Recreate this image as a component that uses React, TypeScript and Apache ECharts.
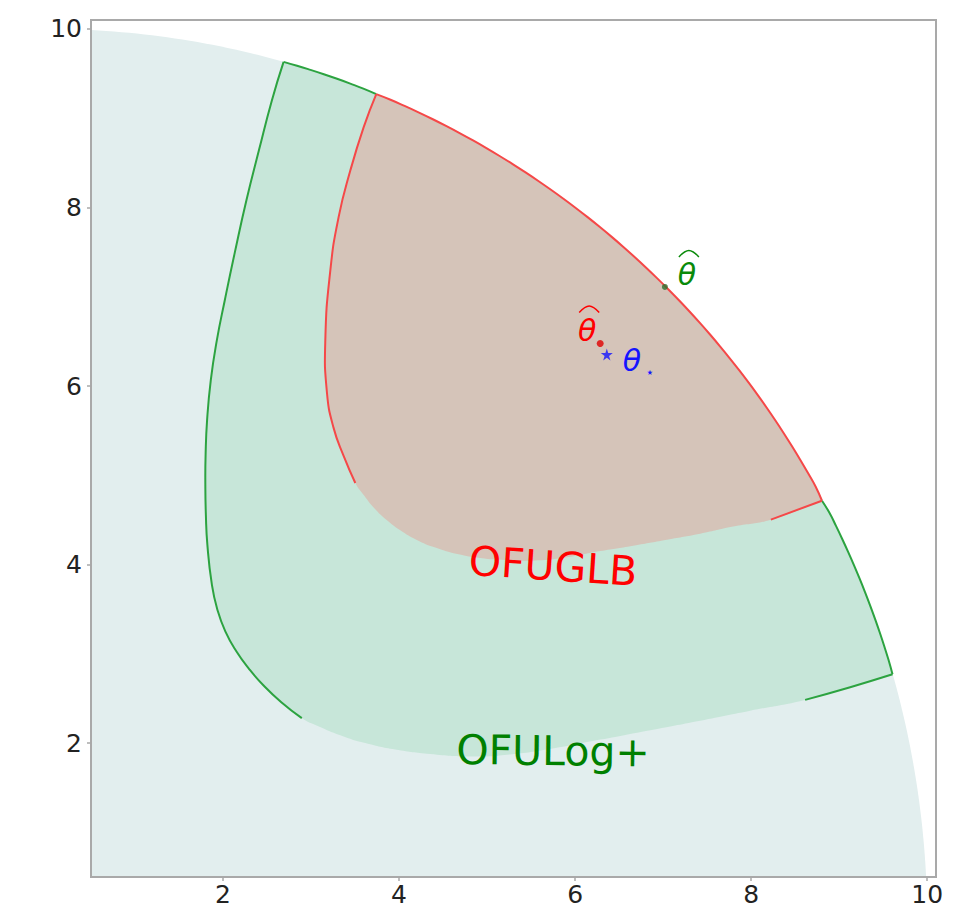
import React, { useEffect, useRef } from "react";
import * as echarts from "echarts";

// ---- axis / tick data ----
const xTickValues = [2, 4, 6, 8, 10];
const yTickValues = [2, 4, 6, 8, 10];
const axisMin = 0.5;
const axisMax = 10.1;
const ballRadius = 10;

// ---- OFULog+ confidence set boundary ----
const greenLeftEdge = [
  [2.688, 9.631], [2.554, 9.196], [2.407, 8.637], [2.265, 8.078], [2.134, 7.497],
  [2.02, 6.961], [1.93, 6.514], [1.861, 6.067], [1.819, 5.62], [1.802, 5.229],
  [1.799, 4.894], [1.805, 4.559], [1.822, 4.223], [1.873, 3.777], [1.935, 3.497],
  [2.026, 3.251], [2.151, 3.028], [2.299, 2.827], [2.458, 2.648], [2.662, 2.458],
  [2.895, 2.279],
];
const greenBottomEdge = [
  [2.895, 2.279], [3.082, 2.19], [3.332, 2.089], [3.616, 2.0], [3.957, 1.927],
  [4.355, 1.877], [4.809, 1.849], [5.263, 1.872], [5.775, 1.944], [6.286, 2.039],
  [6.854, 2.145], [7.421, 2.251], [7.989, 2.363], [8.613, 2.484], [9.125, 2.626],
  [9.606, 2.771],
];

// ---- OFUGLB confidence set boundary ----
const redLeftEdge = [
  [3.741, 9.27], [3.597, 8.897], [3.446, 8.413], [3.313, 7.892], [3.219, 7.296],
  [3.162, 6.514], [3.181, 5.922], [3.256, 5.531], [3.37, 5.218], [3.503, 4.913],
];
const redBottomEdge = [
  [3.503, 4.913], [3.605, 4.771], [3.719, 4.631], [3.855, 4.503], [4.014, 4.385],
  [4.196, 4.279], [4.412, 4.19], [4.662, 4.117], [4.923, 4.073], [5.207, 4.05],
  [5.547, 4.045], [5.888, 4.078], [6.285, 4.151], [6.66, 4.212], [7.043, 4.279],
  [7.421, 4.346], [7.796, 4.425], [8.224, 4.503], [8.804, 4.715],
];

// ---- estimator points ----
const thetaHatOFULog = [7.02, 7.11];
const thetaHatOFUGLB = [6.285, 6.477];
const thetaStar = [6.36, 6.354];

// ---- region labels ----
const regionNames = ["OFUGLB", "OFULog+"];
const regionLabelAnchors = [
  [5.75, 3.98],
  [5.75, 1.91],
];

// ---- styles ----
const diskColor = "#e2eeee";
const greenFill = "#c7e6d9";
const redFill = "#d5c4b9";
const greenLine = "#2ca340";
const redLine = "#f54848";
const starPath =
  "path://M50,0 L61,35 L98,35 L68,57 L79,91 L50,70 L21,91 L32,57 L2,35 L39,35 Z";

const annotationStyles = [
  { color: "#0a8a0a", dx: 22, dy: -12, hat: true, sub: "" },
  { color: "#ff0000", dx: -13, dy: -13, hat: true, sub: "" },
  { color: "#1414ff", dx: 25, dy: 6, hat: false, sub: "⋆" },
];
const regionLabelStyles = [
  { color: "#ff0000", rotation: -0.066 },
  { color: "#008000", rotation: -0.012 },
];

function arcBetween(fromPt: number[], toPt: number[], stepDeg = 1) {
  const a0 = Math.atan2(fromPt[1], fromPt[0]);
  const a1 = Math.atan2(toPt[1], toPt[0]);
  const n = Math.max(2, Math.ceil(Math.abs(a1 - a0) / ((stepDeg * Math.PI) / 180)));
  const pts: number[][] = [fromPt];
  for (let i = 1; i < n; i++) {
    const a = a0 + ((a1 - a0) * i) / n;
    pts.push([ballRadius * Math.cos(a), ballRadius * Math.sin(a)]);
  }
  pts.push(toPt);
  return pts;
}

const rev = (a: number[][]) => a.slice().reverse();

function buildOption() {
  const edgeR = Math.sqrt(ballRadius * ballRadius - axisMin * axisMin);
  const diskOutline = [
    ...arcBetween([axisMin, edgeR], [edgeR, axisMin], 0.5),
    [axisMin, axisMin],
  ];
  const gLast = greenBottomEdge[greenBottomEdge.length - 1];
  const rLast = redBottomEdge[redBottomEdge.length - 1];
  const greenOutline = [
    ...arcBetween(greenLeftEdge[0], gLast),
    ...rev(greenBottomEdge),
    ...rev(greenLeftEdge).slice(1),
  ];
  const redOutline = [
    ...arcBetween(redLeftEdge[0], rLast),
    ...rev(redBottomEdge),
    ...rev(redLeftEdge).slice(1),
  ];
  const greenStrokes = [
    greenLeftEdge,
    greenBottomEdge.slice(-3),
    arcBetween(greenLeftEdge[0], redLeftEdge[0]),
    arcBetween(rLast, gLast),
  ];
  const redStrokes = [
    redLeftEdge,
    redBottomEdge.slice(-2),
    arcBetween(redLeftEdge[0], rLast),
  ];

  const polySeries = (name: string, data: number[][], outline: number[][], fill: string, smooth: number) => ({
    type: "custom",
    name,
    coordinateSystem: "cartesian2d",
    silent: true,
    data,
    renderItem: (params: any, api: any) => {
      if (params.dataIndex !== 0) return null;
      return {
        type: "polygon",
        shape: { points: outline.map((p) => api.coord(p)), smooth },
        style: { fill },
      };
    },
  });

  const strokeSeries = (name: string, data: number[][], strokes: number[][][], color: string) => ({
    type: "custom",
    name,
    coordinateSystem: "cartesian2d",
    silent: true,
    data,
    renderItem: (params: any, api: any) => {
      if (params.dataIndex !== 0) return null;
      return {
        type: "group",
        children: strokes.map((s) => ({
          type: "polyline",
          shape: { points: s.map((p) => api.coord(p)), smooth: 0.5 },
          style: { stroke: color, lineWidth: 2, fill: null },
        })),
      };
    },
  });

  return {
    animation: false,
    backgroundColor: "#ffffff",
    grid: {
      left: 91,
      right: 23,
      top: 20,
      bottom: 31,
      show: true,
      borderColor: "#a9a9a9",
      borderWidth: 2,
      backgroundColor: "#ffffff",
    },
    xAxis: {
      type: "value",
      min: axisMin,
      max: axisMax,
      z: 10,
      axisLine: { show: true, onZero: false, lineStyle: { color: "#a9a9a9", width: 2 } },
      axisTick: { show: true, length: 4, customValues: xTickValues, lineStyle: { color: "#a9a9a9", width: 1.5 } },
      axisLabel: {
        customValues: xTickValues,
        color: "#222222",
        fontSize: 25,
        fontFamily: "DejaVu Sans",
        margin: 5,
      },
      splitLine: { show: false },
    },
    yAxis: {
      type: "value",
      min: axisMin,
      max: axisMax,
      z: 10,
      axisLine: { show: true, onZero: false, lineStyle: { color: "#a9a9a9", width: 2 } },
      axisTick: { show: true, length: 4, customValues: yTickValues, lineStyle: { color: "#a9a9a9", width: 1.5 } },
      axisLabel: {
        customValues: yTickValues,
        color: "#222222",
        fontSize: 25,
        fontFamily: "DejaVu Sans",
        margin: 9,
      },
      splitLine: { show: false },
    },
    series: [
      polySeries("ball", diskOutline, diskOutline, diskColor, 0),
      polySeries("OFULog+ set", greenOutline, greenOutline, greenFill, 0.5),
      polySeries("OFUGLB set", redOutline, redOutline, redFill, 0.5),
      strokeSeries("OFULog+ edge", greenLeftEdge, greenStrokes, greenLine),
      strokeSeries("OFUGLB edge", redLeftEdge, redStrokes, redLine),
      {
        type: "scatter",
        name: "theta hat OFULog+",
        data: [thetaHatOFULog],
        symbol: "circle",
        symbolSize: 6,
        itemStyle: { color: "#2f6f2f" },
        silent: true,
      },
      {
        type: "scatter",
        name: "theta hat OFUGLB",
        data: [thetaHatOFUGLB],
        symbol: "circle",
        symbolSize: 7,
        itemStyle: { color: "#e00000" },
        silent: true,
      },
      {
        type: "scatter",
        name: "theta star",
        data: [thetaStar],
        symbol: starPath,
        symbolSize: 12,
        itemStyle: { color: "#1414ff" },
        silent: true,
      },
      {
        type: "custom",
        name: "annotations",
        coordinateSystem: "cartesian2d",
        silent: true,
        data: [thetaHatOFULog, thetaHatOFUGLB, thetaStar],
        renderItem: (params: any, api: any) => {
          const st = annotationStyles[params.dataIndex];
          const p = api.coord([api.value(0), api.value(1)]);
          const cx = p[0] + st.dx;
          const cy = p[1] + st.dy;
          const children: any[] = [
            {
              type: "text",
              x: cx,
              y: cy,
              style: {
                text: "θ",
                fill: st.color,
                fontSize: 30,
                fontStyle: "italic",
                fontFamily: "DejaVu Sans",
                align: "center",
                verticalAlign: "middle",
              },
            },
          ];
          if (st.hat) {
            children.push({
              type: "polyline",
              shape: {
                points: [
                  [cx - 8, cy - 18],
                  [cx + 2, cy - 24.5],
                  [cx + 12, cy - 18],
                ],
                smooth: 0.4,
              },
              style: { stroke: st.color, lineWidth: 1.5, fill: null },
            });
          }
          if (st.sub) {
            children.push({
              type: "text",
              x: cx + 18,
              y: cy + 12,
              style: {
                text: st.sub,
                fill: st.color,
                fontSize: 14,
                fontFamily: "DejaVu Sans",
                align: "center",
                verticalAlign: "middle",
              },
            });
          }
          return { type: "group", children };
        },
      },
      {
        type: "custom",
        name: "region labels",
        coordinateSystem: "cartesian2d",
        silent: true,
        data: regionLabelAnchors,
        renderItem: (params: any, api: any) => {
          const st = regionLabelStyles[params.dataIndex];
          const p = api.coord([api.value(0), api.value(1)]);
          return {
            type: "text",
            x: p[0],
            y: p[1],
            rotation: st.rotation,
            style: {
              text: regionNames[params.dataIndex],
              fill: st.color,
              fontSize: 41,
              fontFamily: "DejaVu Sans",
              align: "center",
              verticalAlign: "middle",
            },
          };
        },
      },
    ],
  };
}

export default function App() {
  const ref = useRef<HTMLDivElement>(null);
  useEffect(() => {
    if (!ref.current) return;
    const chart = echarts.init(ref.current, undefined, { renderer: "svg" });
    chart.setOption(buildOption() as any);
    return () => chart.dispose();
  }, []);
  return (
    <div
      ref={ref}
      style={{ position: "fixed", left: 0, top: 0, width: 959, height: 908, background: "#fff" }}
    />
  );
}
